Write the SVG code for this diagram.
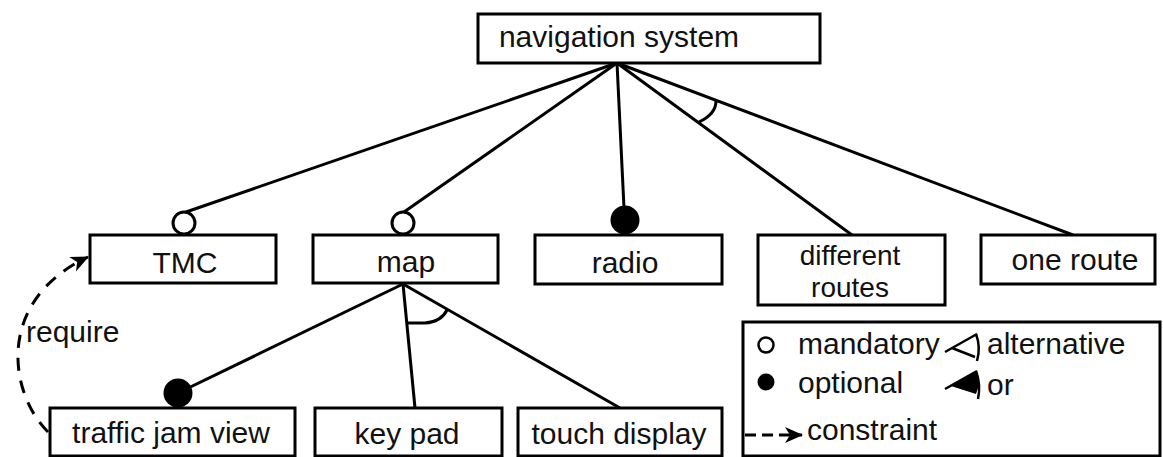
<svg xmlns="http://www.w3.org/2000/svg" width="1163" height="457" viewBox="0 0 1163 457">
  <style>
    .box { fill: #fff; stroke: #000; stroke-width: 3; }
    .edge { fill: none; stroke: #000; stroke-width: 3; }
    .thin { fill: none; stroke: #000; stroke-width: 2.5; }
    .mand { fill: #fff; stroke: #000; stroke-width: 3; }
    .opt { fill: #000; stroke: none; }
    .dash { fill: none; stroke: #000; stroke-width: 3; }
    text { font-family: "Liberation Sans", Arial, sans-serif; font-size: 30px; fill: #111; }
    .c { text-anchor: middle; }
    .two { font-size: 28px; }
  </style>
  <defs>
    <marker id="arrow" markerUnits="userSpaceOnUse" markerWidth="18" markerHeight="18" viewBox="0 0 18 18" refX="17" refY="9" orient="auto">
      <path d="M0,1 L18,9 L0,17 L5,9 Z" fill="#000"/>
    </marker>
  </defs>

  <rect width="1163" height="457" fill="#fff"/>

  <!-- connectors -->
  <g id="connectors">
    <!-- navigation system to its sub-features -->
    <line class="edge" x1="617" y1="63" x2="186" y2="212"/>
    <line class="edge" x1="617" y1="63" x2="404" y2="212"/>
    <line class="edge" x1="617" y1="63" x2="624" y2="208"/>
    <line class="edge" x1="617" y1="63" x2="852" y2="235"/>
    <line class="edge" x1="617" y1="63" x2="1073" y2="235"/>
    <!-- alternative group arc -->
    <path class="edge" d="M699 122 Q716 114 716 101"/>
    <!-- map to its sub-features -->
    <line class="edge" x1="403" y1="284" x2="178" y2="393"/>
    <line class="edge" x1="403" y1="284" x2="415" y2="408"/>
    <line class="edge" x1="403" y1="284" x2="620" y2="408"/>
    <!-- or group arc -->
    <path class="edge" d="M407 323 L425 323 Q441 322 447 310"/>
    <!-- require constraint -->
    <path class="dash" stroke-dasharray="13 10" d="M48 432 C8 392 -4 300 88 257" marker-end="url(#arrow)"/>
    <!-- connection markers -->
    <circle class="mand" cx="184" cy="223" r="11"/>
    <circle class="mand" cx="403" cy="223" r="11"/>
    <circle class="opt" cx="625" cy="220" r="14.5"/>
    <circle class="opt" cx="178" cy="393" r="14.5"/>
  </g>

  <g id="navigation-system">
    <rect class="box" x="478" y="14" width="342" height="49"/>
    <text class="c" x="619" y="47">navigation system</text>
  </g>
  <g id="tmc">
    <rect class="box" x="90" y="235" width="186" height="48"/>
    <text class="c" x="185" y="273">TMC</text>
  </g>
  <g id="map">
    <rect class="box" x="313" y="235" width="185" height="48"/>
    <text class="c" x="406" y="272">map</text>
  </g>
  <g id="radio">
    <rect class="box" x="535" y="235" width="187" height="49"/>
    <text class="c" x="625" y="273">radio</text>
  </g>
  <g id="different-routes">
    <rect class="box" x="758" y="235" width="187" height="70"/>
    <text class="c two" x="850" y="265">different</text>
    <text class="c two" x="850" y="297">routes</text>
  </g>
  <g id="one-route">
    <rect class="box" x="981" y="235" width="174" height="49"/>
    <text class="c" x="1075" y="270">one route</text>
  </g>
  <g id="traffic-jam-view">
    <rect class="box" x="50" y="408" width="245" height="48"/>
    <text class="c" x="171" y="443">traffic jam view</text>
  </g>
  <g id="key-pad">
    <rect class="box" x="315" y="408" width="187" height="48"/>
    <text class="c" x="407" y="444">key pad</text>
  </g>
  <g id="touch-display">
    <rect class="box" x="518" y="408" width="204" height="48"/>
    <text class="c" x="619" y="444">touch display</text>
  </g>

  <text x="26" y="342">require</text>

  <!-- legend -->
  <g id="legend">
    <rect class="box" x="743" y="322" width="417" height="134"/>
    <circle fill="#fff" stroke="#000" stroke-width="2.5" cx="766" cy="345" r="7.5"/>
    <text x="798" y="354">mandatory</text>
    <circle fill="#000" cx="766" cy="382" r="8.5"/>
    <text x="798" y="393">optional</text>
    <!-- alternative symbol: open fan -->
    <path class="thin" d="M945 352 L977 334 M952 348 L975 357"/>
    <path class="thin" d="M976 334 Q981 347 977 361"/>
    <text x="987" y="354">alternative</text>
    <!-- or symbol: filled fan -->
    <path fill="#000" d="M951 386 L977 371 Q981 382 976 394 Z"/>
    <path class="thin" d="M945 389 L977 371 M976 371 Q981 385 978 399"/>
    <text x="987" y="395">or</text>
    <!-- constraint symbol -->
    <path class="dash" stroke-dasharray="11 6" d="M745 435 L802 435" marker-end="url(#arrow)"/>
    <text x="807" y="440">constraint</text>
  </g>
</svg>
